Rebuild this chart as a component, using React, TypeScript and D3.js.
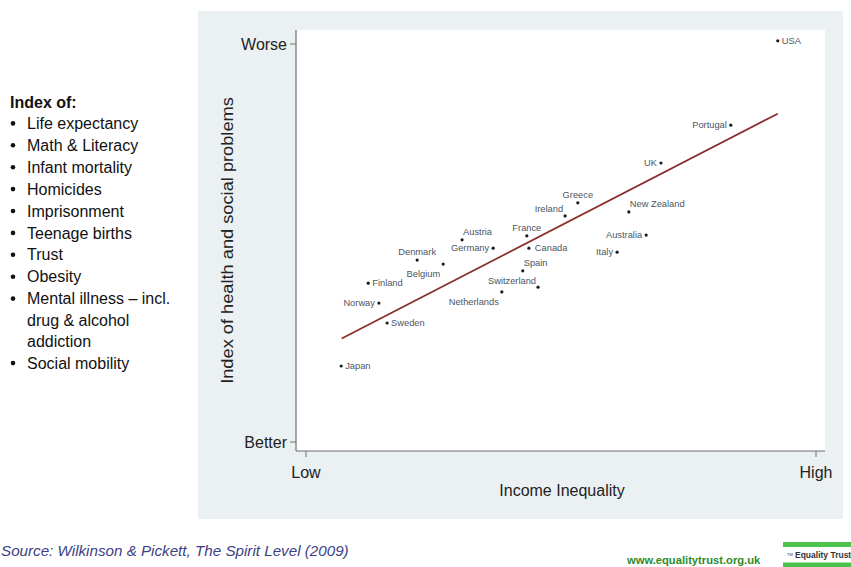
import React from "react";
import * as d3 from "d3";

const countries = ["USA","Portugal","UK","Greece","Ireland","New Zealand","France","Canada","Australia","Italy","Austria","Germany","Denmark","Belgium","Finland","Norway","Sweden","Netherlands","Spain","Switzerland","Japan"];
const incomeInequality = [9.25,8.33,6.96,5.33,5.08,6.33,4.33,4.37,6.67,6.1,3.06,3.67,2.18,2.69,1.22,1.43,1.59,3.84,4.25,4.55,0.69];
const healthSocialIndex = [10.08,7.96,7.01,6.01,5.68,5.78,5.18,4.87,5.2,4.77,5.08,4.87,4.57,4.47,3.99,3.49,2.99,3.77,4.3,3.89,1.91];

const trendX = [0.7, 9.25];
const trendY = [2.6, 8.25];

const xTickValues = [0, 10];
const xTickLabels = ["Low", "High"];
const yTickValues = [0, 10];
const yTickLabels = ["Better", "Worse"];

const indexTitle = "Index of:";
const indexItems = [
  ["Life expectancy"],
  ["Math & Literacy"],
  ["Infant mortality"],
  ["Homicides"],
  ["Imprisonment"],
  ["Teenage births"],
  ["Trust"],
  ["Obesity"],
  ["Mental illness \u2013 incl.", "drug & alcohol", "addiction"],
  ["Social mobility"],
];

const xTitle = "Income Inequality";
const yTitle = "Index of health and social problems";
const sourceText = "Source: Wilkinson & Pickett, The Spirit Level (2009)";
const siteText = "www.equalitytrust.org.uk";
const logoText = "Equality Trust";

// label placement per country (style)
const labelPlace: Record<string, string> = {
  USA: "r", Portugal: "l", UK: "l", Greece: "t", Ireland: "tl", "New Zealand": "tr",
  France: "t", Canada: "r6", Australia: "l", Italy: "l", Austria: "tr", Germany: "l",
  Denmark: "t", Belgium: "bl", Finland: "r", Norway: "l", Sweden: "r", Netherlands: "bl",
  Spain: "tr", Switzerland: "tl", Japan: "r",
};

const W = 851, H = 567;
const font = "'Liberation Sans', Arial, sans-serif";

export default function App() {
  const x = d3.scaleLinear().domain([0, 10]).range([306, 816]);
  const y = d3.scaleLinear().domain([0, 10]).range([442, 44]);
  const plot = { left: 296, right: 825, top: 30, bottom: 451 };
  const line = d3.line<number>().x((_, i) => x(trendX[i])).y((_, i) => y(trendY[i]));

  const labelAttrs = (name: string) => {
    const p = labelPlace[name];
    switch (p) {
      case "r": return { dx: 4, dy: 3.3, anchor: "start" };
      case "r6": return { dx: 6, dy: 3.3, anchor: "start" };
      case "l": return { dx: -4, dy: 3.3, anchor: "end" };
      case "t": return { dx: 0, dy: -5, anchor: "middle" };
      case "tr": return { dx: 1, dy: -5, anchor: "start" };
      case "tl": return { dx: -2, dy: -3.5, anchor: "end" };
      case "bl": return { dx: -3, dy: 13, anchor: "end" };
      default: return { dx: 4, dy: 3.3, anchor: "start" };
    }
  };

  let lineY = 101.5;
  const listLines: { text: string; bullet: boolean; y: number }[] = [];
  indexItems.forEach((item) => {
    item.forEach((t, j) => {
      lineY += j === 0 ? 21.9 : 21.3;
      listLines.push({ text: t, bullet: j === 0, y: lineY });
    });
  });

  return (
    <div style={{ position: "absolute", left: 0, top: 0 }}>
      <svg width={W} height={H} style={{ display: "block", background: "#fff" }}>
        {/* grey panel */}
        <rect x={198} y={11} width={645} height={508} fill="#ebf0f2" />
        <rect x={plot.left} y={plot.top} width={plot.right - plot.left} height={plot.bottom - plot.top} fill="#fff" />
        {/* axes */}
        <line x1={plot.left} x2={plot.left} y1={plot.top} y2={plot.bottom} stroke="#6e6e6e" strokeWidth={1.2} />
        <line x1={plot.left} x2={plot.right} y1={plot.bottom} y2={plot.bottom} stroke="#6e6e6e" strokeWidth={1.2} />
        {yTickValues.map((v, i) => (
          <g key={"yt" + i}>
            <line x1={plot.left - 6} x2={plot.left} y1={y(v)} y2={y(v)} stroke="#6e6e6e" strokeWidth={1} />
            <text x={plot.left - 9} y={y(v)} dy="0.36em" textAnchor="end" fontFamily={font} fontSize={16} fill="#222">
              {yTickLabels[i]}
            </text>
          </g>
        ))}
        {xTickValues.map((v, i) => (
          <g key={"xt" + i}>
            <line x1={x(v)} x2={x(v)} y1={plot.bottom} y2={plot.bottom + 6} stroke="#6e6e6e" strokeWidth={1} />
            <text x={x(v)} y={plot.bottom + 27} textAnchor="middle" fontFamily={font} fontSize={16} fill="#222">
              {xTickLabels[i]}
            </text>
          </g>
        ))}
        <text x={562} y={496} textAnchor="middle" fontFamily={font} fontSize={16} fill="#222">{xTitle}</text>
        <text transform={`translate(233,240.5) rotate(-90) scale(1.14,1)`} textAnchor="middle" fontFamily={font} fontSize={16} fill="#222">
          {yTitle}
        </text>

        {/* trend line */}
        <path d={line(trendX) || ""} fill="none" stroke="#8a2c2c" strokeWidth={1.7} />

        {/* points */}
        {countries.map((c, i) => {
          const cx = x(incomeInequality[i]);
          const cy = y(healthSocialIndex[i]);
          const la = labelAttrs(c);
          return (
            <g key={c}>
              <circle cx={cx} cy={cy} r={1.6} fill="#1a1a1a" />
              <text x={cx + la.dx} y={cy + la.dy} textAnchor={la.anchor} fontFamily={font} fontSize={9.3} fill="#4b5563">
                {c}
              </text>
            </g>
          );
        })}

        {/* left list */}
        <text x={10} y={107.5} fontFamily={font} fontSize={16} fontWeight="bold" fill="#111">{indexTitle}</text>
        {listLines.map((l, i) => (
          <g key={"li" + i}>
            {l.bullet && <circle cx={13} cy={l.y} r={2.3} fill="#111" />}
            <text x={27} y={l.y + 5.6} fontFamily={font} fontSize={16} fill="#111">{l.text}</text>
          </g>
        ))}

        {/* footer */}
        <text x={1} y={556} fontFamily={font} fontSize={15.2} fontStyle="italic" fill="#3d3f86">{sourceText}</text>
        <text x={627} y={564} fontFamily={font} fontSize={11.2} fontWeight="bold" fill="#2f8a2a">{siteText}</text>
        <rect x={783} y={542} width={68} height={5} fill="#4cc34a" />
        <rect x={783} y={562.5} width={68} height={5} fill="#4cc34a" />
        <text x={787} y={556} fontFamily={font} fontSize={4} fill="#333">TM</text>
        <text x={795} y={558} fontFamily={font} fontSize={8.5} fontWeight="bold" fill="#333">{logoText}</text>
      </svg>
    </div>
  );
}
